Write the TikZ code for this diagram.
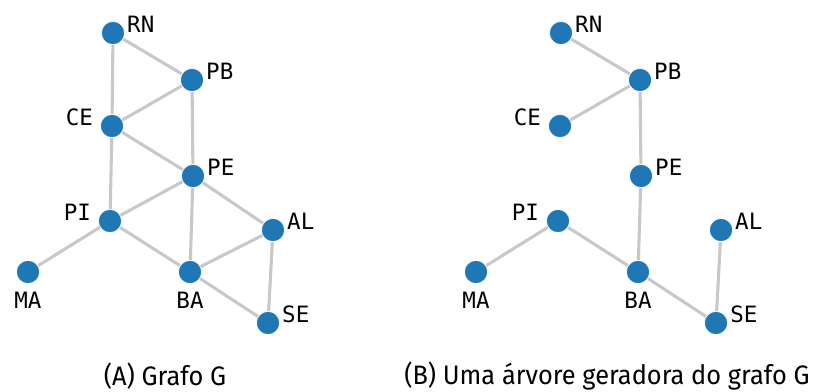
\documentclass[tikz,border=0pt]{standalone}
\usepackage{fontspec}
\setmainfont{Fira Sans}
\newfontfamily\monolbl{DejaVu Sans Mono}
\newfontfamily\captfont[FakeStretch=0.95]{Fira Sans}
\usetikzlibrary{positioning}
\definecolor{nodeblue}{RGB}{31,119,180}
\definecolor{edgegray}{RGB}{200,200,200}

\tikzset{
  vtx/.style={circle,fill=nodeblue,draw=white,line width=0.5pt,minimum size=0.58cm,inner sep=0pt},
  lbl/.style={font=\monolbl\fontsize{16pt}{16pt}\selectfont,inner sep=0pt,text=black},
  lr/.style={label={[lbl,yshift=0.21cm,label distance=0.05cm]right:#1}},
  ll/.style={label={[lbl,yshift=0.21cm,label distance=0.17cm]left:#1}},
  lb/.style={label={[lbl,label distance=0.2cm]below:#1}},
  edge/.style={edgegray,line width=2.2pt},
  capt/.style={font=\captfont\fontsize{19pt}{19pt}\selectfont,inner sep=0pt}
}

\begin{document}
\begin{tikzpicture}[x=0.025cm,y=-0.025cm]
  \useasboundingbox (0,0) rectangle (813,392);

  % (A) the graph G
  \node[vtx,lr=RN] (rn) at (113,33)  {};
  \node[vtx,lr=PB] (pb) at (192,80)  {};
  \node[vtx,ll=CE] (ce) at (112,126) {};
  \node[vtx,lr=PE] (pe) at (193,176) {};
  \node[vtx,ll=PI] (pi) at (110,221) {};
  \node[vtx,lr=AL] (al) at (273,230) {};
  \node[vtx,lb=MA] (ma) at (28,272)  {};
  \node[vtx,lb=BA] (ba) at (190,272) {};
  \node[vtx,lr=SE] (se) at (268,323) {};

  \foreach \a/\b in {rn/pb,rn/ce,pb/ce,pb/pe,ce/pe,ce/pi,pe/pi,pe/ba,pe/al,
                     pi/ma,pi/ba,ba/al,ba/se,al/se}
    \draw[edge] (\a) -- (\b);

  % (B) a spanning tree of G
  \node[vtx,lr=RN] (rnb) at (561,33)  {};
  \node[vtx,lr=PB] (pbb) at (640,80)  {};
  \node[vtx,ll=CE] (ceb) at (560,126) {};
  \node[vtx,lr=PE] (peb) at (641,176) {};
  \node[vtx,ll=PI] (pib) at (558,221) {};
  \node[vtx,lr=AL] (alb) at (721,230) {};
  \node[vtx,lb=MA] (mab) at (476,272) {};
  \node[vtx,lb=BA] (bab) at (638,272) {};
  \node[vtx,lr=SE] (seb) at (716,323) {};

  \foreach \a/\b in {rnb/pbb,pbb/ceb,pbb/peb,peb/bab,pib/mab,pib/bab,bab/seb,seb/alb}
    \draw[edge] (\a) -- (\b);

  \node[capt] (capa) at (165,376) {(A) Grafo G};
  \node[capt] (capb) at (607,376) {(B) Uma árvore geradora do grafo G};
\end{tikzpicture}
\end{document}
